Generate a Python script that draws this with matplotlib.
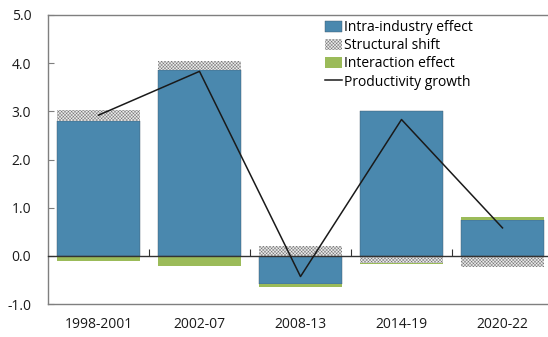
import numpy as np
import matplotlib
matplotlib.use("Agg")
import matplotlib.pyplot as plt
from matplotlib.patches import Patch
from matplotlib.lines import Line2D

plt.rcParams['font.family'] = ['Open Sans', 'DejaVu Sans']
plt.rcParams['hatch.linewidth'] = 0.35

periods = ["1998-2001", "2002-07", "2008-13", "2014-19", "2020-22"]
intra = [2.80, 3.85, -0.58, 3.00, 0.75]
structural = [0.22, 0.20, 0.21, -0.15, -0.23]
interaction = [-0.10, -0.22, -0.06, -0.02, 0.05]
growth = [2.92, 3.83, -0.43, 2.83, 0.58]
y_ticks = [-1.0, 0.0, 1.0, 2.0, 3.0, 4.0, 5.0]

BLUE = "#4a88ae"
GREEN = "#9bbb59"
EDGE = "#3d5566"
SHIFT_FACE = "#ececec"
SHIFT_HATCH = "#7a7a7a"
SHIFT_PATTERN = "xxxxxxxxxx"

fig = plt.figure(figsize=(5.48, 3.37), dpi=100)
ax = fig.add_axes([48 / 548, 1 - 304 / 337, 505 / 548, 289 / 337])

x = np.arange(len(periods))
width = 0.83
pos_base = np.zeros(len(periods))
neg_base = np.zeros(len(periods))

def stack(values, **kw):
    vals = np.asarray(values, dtype=float)
    bottoms = np.where(vals >= 0, pos_base, neg_base)
    ax.bar(x, vals, width, bottom=bottoms, **kw)
    pos_base[:] += np.where(vals >= 0, vals, 0)
    neg_base[:] += np.where(vals < 0, vals, 0)

stack(intra, color=BLUE, edgecolor=EDGE, linewidth=0.3, zorder=2)
stack(structural, facecolor=SHIFT_FACE, edgecolor=SHIFT_HATCH, hatch=SHIFT_PATTERN,
      linewidth=0, zorder=2)
stack(interaction, color=GREEN, linewidth=0, zorder=2)

ax.plot(x, growth, color="#1a1a1a", linewidth=1.1, zorder=4)

ax.set_xlim(-0.5, len(periods) - 0.5)
ax.set_ylim(-1.0, 5.0)
ax.set_yticks(y_ticks)
ax.set_yticklabels([f"{v:.1f}" for v in y_ticks])
ax.set_xticks(x)
ax.set_xticklabels(periods)

spine_col = "#7f7f7f"
for side in ["left", "top", "bottom"]:
    ax.spines[side].set_color(spine_col)
    ax.spines[side].set_linewidth(1.0)
ax.spines["right"].set_visible(False)

ax.tick_params(axis="y", direction="in", length=4, color=spine_col,
               labelsize=10, pad=12, labelcolor="#1a1a1a")
ax.tick_params(axis="x", length=0, labelsize=10, pad=9, labelcolor="#1a1a1a")

# zero line with category-boundary ticks
zero = ax.secondary_xaxis(1 / 6)
zero.set_xticks(np.arange(len(periods) - 1) + 0.5)
zero.tick_params(direction="in", length=5, color="#333333", labelbottom=False,
                 labeltop=False)
zero.spines["bottom"].set_color("#333333")
zero.spines["bottom"].set_linewidth(1.0)
zero.set_zorder(3)

handles = [
    Patch(facecolor=BLUE, edgecolor=EDGE, linewidth=0.3, label="Intra-industry effect"),
    Patch(facecolor=SHIFT_FACE, edgecolor=SHIFT_HATCH, hatch=SHIFT_PATTERN, linewidth=0,
          label="Structural shift"),
    Patch(facecolor=GREEN, label="Interaction effect"),
    Line2D([], [], color="#1a1a1a", linewidth=1.1, label="Productivity growth"),
]
ax.legend(handles=handles, loc="upper left", bbox_to_anchor=(0.53, 1.015),
          frameon=False, fontsize=10, handlelength=1.2, handleheight=0.8,
          handletextpad=0.15, labelspacing=0.22, borderaxespad=0.3)

fig.savefig("out.png", dpi=100)
